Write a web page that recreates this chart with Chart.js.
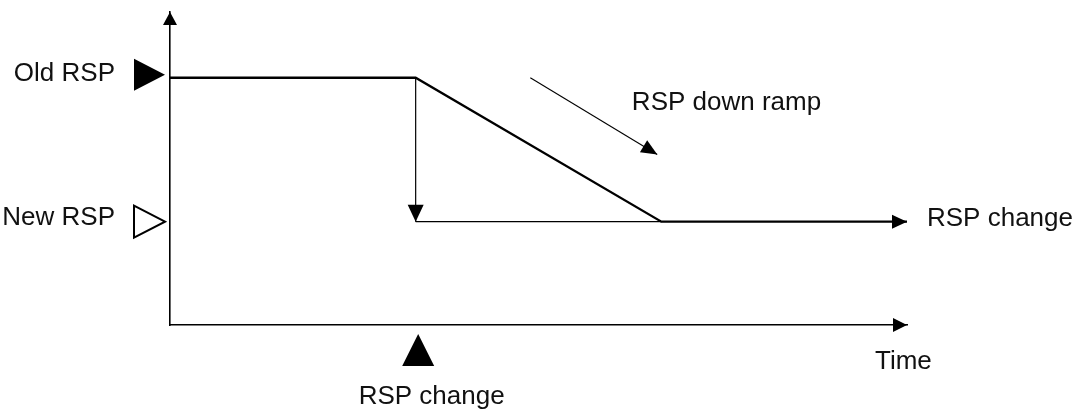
<!DOCTYPE html>
<html>
<head>
<meta charset="utf-8">
<script src="https://cdn.jsdelivr.net/npm/chart.js@4"></script>
<style>
	body { margin: 0; background: #fff; }
	#wrap { width: 1081px; height: 411px; }
</style>
</head>
<body>
<div id="wrap"><canvas id="rsp-chart" width="1081" height="411"></canvas></div>
<script>
// setpoint path: old level, ramp down, new level
const rampTime  = [0, 3, 6, 9];
const rampValue = [79, 79, 33, 33];
// immediate step at the change
const stepTime  = [3, 3];
const stepValue = [79, 33];
const jumpTime  = [3, 6];
const jumpValue = [33, 33];
// small "down ramp" pointer
const hintTime  = [4.4, 5.95];
const hintValue = [79, 54.5];

const levelTicks  = [79, 33];
const levelLabels = ["Old RSP", "New RSP"];
const timeTicks   = [3];
const timeLabels  = ["RSP change"];
const axisTitle   = "Time";
const rampNote    = "RSP down ramp";
const endNote     = "RSP change";

const FONT = "'Liberation Sans', Arial, sans-serif";
Chart.defaults.font.family = FONT;
Chart.defaults.font.size = 26;
Chart.defaults.color = "#111";

function pts(xs, ys){
	return xs.map(function(x, i){ return {x: x, y: ys[i]}; });
}

function head(ctx, x, y, ang, len, half){
	ctx.save();
	ctx.translate(x, y);
	ctx.rotate(ang);
	ctx.beginPath();
	ctx.moveTo(0, 0);
	ctx.lineTo(-len, -half);
	ctx.lineTo(-len, half);
	ctx.closePath();
	ctx.fill();
	ctx.restore();
}

const diagram = {
	id: "diagram",
	afterDatasetsDraw: function(chart){
		const ctx = chart.ctx, a = chart.chartArea;
		const xs = chart.scales.x, ys = chart.scales.y;
		ctx.save();
		ctx.fillStyle = "#000";
		ctx.strokeStyle = "#000";

		// axis arrows
		head(ctx, a.left, a.top, -Math.PI/2, 13, 7);
		head(ctx, a.right, a.bottom, 0, 14, 7);

		// arrowheads at the end of marked datasets
		chart.data.datasets.forEach(function(ds, i){
			if(!ds.arrow) return;
			const el = chart.getDatasetMeta(i).data;
			const p = el[el.length-1], q = el[el.length-2];
			const ang = Math.atan2(p.y - q.y, p.x - q.x);
			head(ctx, p.x, p.y, ang, ds.arrow[0], ds.arrow[1]);
		});

		// level markers on the y axis
		levelTicks.forEach(function(v, i){
			const y = ys.getPixelForValue(v) - (i === 0 ? 3 : 0);
			const tip = a.left - 5;
			ctx.beginPath();
			ctx.moveTo(tip, y);
			ctx.lineTo(tip - 31, y - 16);
			ctx.lineTo(tip - 31, y + 16);
			ctx.closePath();
			if(i === 0){
				ctx.fill();
			}else{
				ctx.lineWidth = 2;
				ctx.stroke();
			}
		});

		// change marker under the time axis
		timeTicks.forEach(function(t){
			const cx = xs.getPixelForValue(t) + 2.5;
			ctx.beginPath();
			ctx.moveTo(cx, a.bottom + 9);
			ctx.lineTo(cx - 16, a.bottom + 41);
			ctx.lineTo(cx + 16, a.bottom + 41);
			ctx.closePath();
			ctx.fill();
		});

		// notes
		ctx.fillStyle = "#111";
		ctx.font = "26px " + FONT;
		ctx.textAlign = "left";
		ctx.textBaseline = "alphabetic";
		ctx.fillText(rampNote, xs.getPixelForValue(5.64), ys.getPixelForValue(68.7));
		ctx.fillText(endNote, a.right + 20, ys.getPixelForValue(levelTicks[1]) + 4);
		ctx.fillText(axisTitle, a.right - 32, a.bottom + 44);
		ctx.restore();
	}
};

const ctx = document.getElementById("rsp-chart").getContext("2d");

new Chart(ctx, {
	type: "scatter",
	data: {
		datasets: [{
			data: pts(rampTime, rampValue),
			borderWidth: 2.3,
			arrow: [15, 7]
		},{
			data: pts(stepTime, stepValue),
			borderWidth: 1.2,
			arrow: [17, 8]
		},{
			data: pts(jumpTime, jumpValue),
			borderWidth: 1.2
		},{
			data: pts(hintTime, hintValue),
			borderWidth: 1.1,
			arrow: [16, 7]
		}].map(function(ds){
			ds.showLine = true;
			ds.borderColor = "#000";
			ds.pointRadius = 0;
			ds.fill = false;
			return ds;
		})
	},
	options: {
		responsive: false,
		animation: false,
		devicePixelRatio: 1,
		layout: { padding: { left: 0, top: 12, right: 174, bottom: 0 } },
		plugins: { legend: { display: false }, tooltip: { enabled: false } },
		scales: {
			x: {
				type: "linear",
				min: 0,
				max: 9,
				grid: { display: false, drawTicks: false },
				border: { color: "#000", width: 1.6 },
				afterBuildTicks: function(s){ s.ticks = timeTicks.map(function(v){ return {value: v}; }); },
				afterFit: function(s){ s.height = 86; s.paddingLeft = 0; s.paddingRight = 0; },
				ticks: {
					padding: 56,
					labelOffset: 16,
					maxRotation: 0,
					callback: function(v){ return timeLabels[timeTicks.indexOf(v)]; }
				}
			},
			y: {
				min: 0,
				max: 100,
				grid: { display: false, drawTicks: false },
				border: { color: "#000", width: 1.6 },
				afterBuildTicks: function(s){ s.ticks = levelTicks.map(function(v){ return {value: v}; }).reverse(); },
				afterFit: function(s){ s.width = 170; s.paddingTop = 0; s.paddingBottom = 0; },
				ticks: {
					padding: 55,
					labelOffset: -4,
					callback: function(v){ return levelLabels[levelTicks.indexOf(v)]; }
				}
			}
		}
	},
	plugins: [diagram]
});
</script>
</body>
</html>
